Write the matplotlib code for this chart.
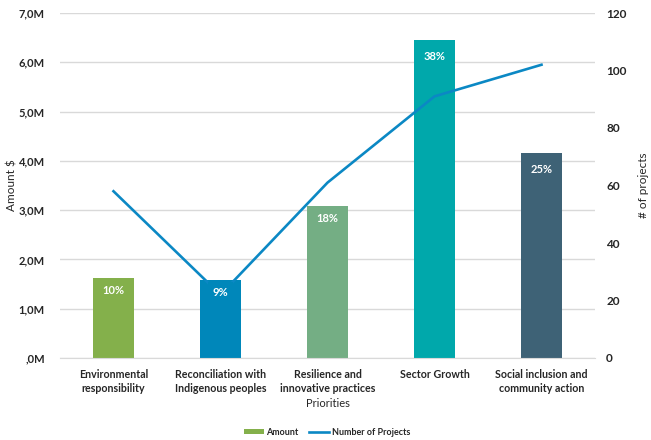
import matplotlib
matplotlib.use("Agg")
import matplotlib.pyplot as plt
from matplotlib.lines import Line2D
from matplotlib.patches import Patch

# Data
categories = [
    "Environmental\nresponsibility",
    "Reconciliation with\nIndigenous peoples",
    "Resilience and\ninnovative practices",
    "Sector Growth",
    "Social inclusion and\ncommunity action",
]
amounts_m = [1.62, 1.58, 3.08, 6.46, 4.15]          # millions of $
share_labels = ["10%", "9%", "18%", "38%", "25%"]
num_projects = [58, 22, 61, 91, 102]
left_ticks = [0, 1, 2, 3, 4, 5, 6, 7]
left_tick_labels = [",0M", "1,0M", "2,0M", "3,0M", "4,0M", "5,0M", "6,0M", "7,0M"]
right_ticks = [0, 20, 40, 60, 80, 100, 120]

bar_colors = ["#84B04B", "#0087BA", "#74AE84", "#00A8AB", "#3E6276"]
line_color = "#0B88C4"
grid_color = "#D9D9D9"
text_color = "#262626"

plt.rcParams["font.family"] = ["Lato", "DejaVu Sans"]

W, H = 651, 440
fig = plt.figure(figsize=(W / 100, H / 100), dpi=100)
ax = fig.add_axes([60 / W, 1 - 358 / H, (595 - 60) / W, (358 - 13) / H])

x = list(range(len(categories)))
bars = ax.bar(x, amounts_m, width=0.39, color=bar_colors, zorder=2)

ax.set_xlim(-0.5, len(categories) - 0.5)
ax.set_ylim(0, 7)
ax.set_yticks(left_ticks)
ax.set_yticklabels(left_tick_labels, fontsize=8, fontweight="bold", color=text_color)
ax.set_xticks(x)
ax.set_xticklabels(categories, fontsize=7.7, fontweight="bold", color=text_color,
                   linespacing=1.35)
ax.tick_params(axis="both", length=0)
ax.tick_params(axis="y", pad=11)
ax.tick_params(axis="x", pad=8)
ax.grid(axis="y", color=grid_color, linewidth=1, zorder=0)
ax.set_axisbelow(True)
for side in ["top", "right", "left"]:
    ax.spines[side].set_visible(False)
ax.spines["bottom"].set_color(grid_color)
ax.set_ylabel("Amount $", fontsize=8.5, color=text_color)
ax.yaxis.set_label_coords(-0.08, 0.5)
ax.set_xlabel("Priorities", fontsize=8, color=text_color, labelpad=3)

# Secondary axis: number of projects
ax2 = ax.twinx()
ax2.set_ylim(0, 120)
ax2.set_yticks(right_ticks)
ax2.set_yticklabels([str(t) for t in right_ticks], fontsize=8.5, fontweight="bold",
                    color=text_color)
ax2.tick_params(axis="y", length=0, pad=8)
for side in ["top", "right", "left", "bottom"]:
    ax2.spines[side].set_visible(False)
ax2.set_ylabel("# of projects", fontsize=8.5, color=text_color, labelpad=8)
ax2.plot(x, num_projects, color=line_color, linewidth=1.9, zorder=3,
         solid_joinstyle="round")

# Share labels with a filled box in the bar colour, drawn above the line
label_offsets_px = [12, 12, 12, 17, 16]
for xi, val, lab, col, off in zip(x, amounts_m, share_labels, bar_colors, label_offsets_px):
    ax2.annotate(lab, xy=(xi, val / 7 * 120), xytext=(0, -off), textcoords="offset pixels",
                 ha="center", va="center", fontsize=8, fontweight="bold", color="white",
                 zorder=5,
                 bbox=dict(boxstyle="square,pad=0.4", facecolor=col, edgecolor="none"))

handles = [
    Patch(facecolor=bar_colors[0], edgecolor="none", label="Amount"),
    Line2D([0], [0], color=line_color, linewidth=1.9, label="Number of Projects"),
]
leg = fig.legend(handles=handles, loc="center", bbox_to_anchor=(327 / W, 1 - 432 / H),
                 ncol=2, frameon=False, handlelength=2.2, handleheight=0.5,
                 columnspacing=1.2, handletextpad=0.3,
                 prop={"size": 6.5, "weight": "bold"})
for t in leg.get_texts():
    t.set_color(text_color)

fig.savefig("out.png", dpi=100, facecolor="white")
